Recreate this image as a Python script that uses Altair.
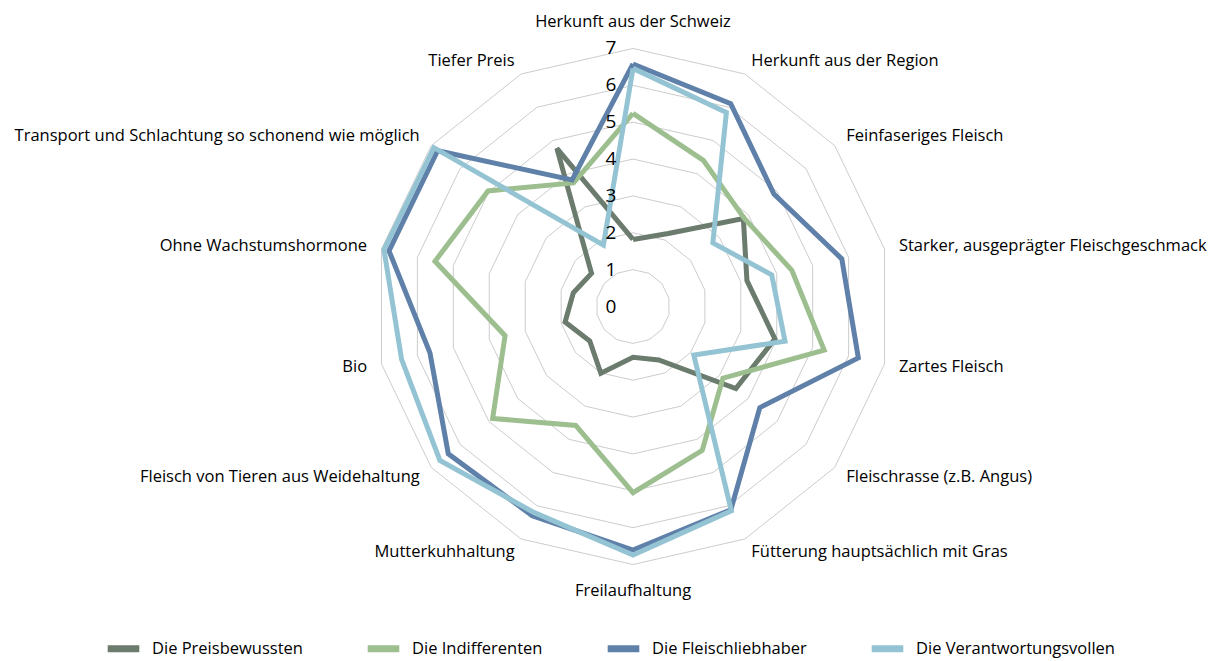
import altair as alt
import pandas as pd

categories = [
    "Herkunft aus der Schweiz",
    "Herkunft aus der Region",
    "Feinfaseriges Fleisch",
    "Starker, ausgeprägter Fleischgeschmack",
    "Zartes Fleisch",
    "Fleischrasse (z.B. Angus)",
    "Fütterung hauptsächlich mit Gras",
    "Freilaufhaltung",
    "Mutterkuhhaltung",
    "Fleisch von Tieren aus Weidehaltung",
    "Bio",
    "Ohne Wachstumshormone",
    "Transport und Schlachtung so schonend wie möglich",
    "Tiefer Preis",
]
series_names = ["Die Preisbewussten", "Die Indifferenten", "Die Fleischliebhaber", "Die Verantwortungsvollen"]
preisbewusste = [1.82, 2.2, 3.83, 3.17, 3.95, 3.57, 1.61, 1.38, 2.01, 1.5, 1.89, 1.66, 1.44, 4.76]
indifferente = [5.24, 4.40, 3.85, 4.42, 5.32, 3.12, 4.33, 5.05, 3.58, 4.87, 3.56, 5.51, 5.03, 3.72]
fleischliebhaber = [6.58, 6.11, 4.89, 5.81, 6.27, 4.40, 6.12, 6.61, 6.30, 6.41, 5.65, 6.79, 6.78, 3.81]
verantwortungsvolle = [6.46, 5.84, 2.77, 3.86, 4.23, 2.11, 6.15, 6.74, 6.20, 6.70, 6.44, 6.93, 6.91, 1.85]
tick_values = [0, 1, 2, 3, 4, 5, 6, 7]
grid_levels = [1, 2, 3, 4, 5, 6, 7]
colors = ["#6b7b6d", "#9dbf8f", "#5f80a9", "#94c4d3"]

FONT = "Open Sans"
TEXT_COLOR = "#000000"
N = len(categories)

# layout (pixels)
W, H = 1200, 653
CX, CY = 625.0, 298.5   # centre inside the plot area
UNIT = 36.86            # pixels per value unit
XMIN = -CX / UNIT
XMAX = (W - CX) / UNIT
YMAX = CY / UNIT
YMIN = (CY - H) / UNIT

all_series = [preisbewusste, indifferente, fleischliebhaber, verantwortungsvolle]
rows = []
for k, (name, vals) in enumerate(zip(series_names, all_series)):
    for i in range(N + 1):
        rows.append({"series": name, "k": k, "idx": i, "value": vals[i % N]})
series_df = pd.DataFrame(rows)

grid_df = pd.DataFrame([{"level": lv, "idx": i} for lv in grid_levels for i in range(N + 1)])
label_df = pd.DataFrame({"idx": list(range(N)), "category": categories})
tick_df = pd.DataFrame({"tick": tick_values})

xs = alt.Scale(domain=[XMIN, XMAX], nice=False, zero=False)
ys = alt.Scale(domain=[YMIN, YMAX], nice=False, zero=False)
ANG = "datum.idx * 2 * PI / %d" % N

grid = (
    alt.Chart(grid_df)
    .transform_calculate(a=ANG)
    .transform_calculate(gx="datum.level * sin(datum.a)", gy="datum.level * cos(datum.a)")
    .mark_line(color="#cccccc", strokeWidth=1)
    .encode(
        x=alt.X("gx:Q", scale=xs, axis=None),
        y=alt.Y("gy:Q", scale=ys, axis=None),
        detail="level:N",
        order="idx:Q",
    )
)

lines = (
    alt.Chart(series_df)
    .transform_calculate(a=ANG)
    .transform_calculate(sx="datum.value * sin(datum.a)", sy="datum.value * cos(datum.a)")
    .mark_line(strokeWidth=5, strokeJoin="miter")
    .encode(
        x=alt.X("sx:Q", scale=xs, axis=None),
        y=alt.Y("sy:Q", scale=ys, axis=None),
        color=alt.Color(
            "series:N",
            scale=alt.Scale(domain=series_names, range=colors),
            legend=alt.Legend(
                title=None,
                orient="none",
                direction="horizontal",
                legendX=96,
                legendY=621,
                symbolType="stroke",
                symbolStrokeWidth=7,
                symbolSize=1000,
                labelFont=FONT,
                labelFontSize=16.5,
                labelColor=TEXT_COLOR,
                labelOffset=9,
                labelLimit=400,
                columnPadding=50,
            ),
        ),
        order="idx:Q",
    )
)

label_base = (
    alt.Chart(label_df)
    .transform_calculate(a=ANG)
    .transform_calculate(
        lx="7.4 * sin(datum.a)",
        ly="7.4 * cos(datum.a) + (cos(datum.a) > 0.99 ? 0.33 : (cos(datum.a) < -0.99 ? -0.33 : 0))",
        s="sin(datum.a)",
    )
)


def label_layer(filt, align):
    return (
        label_base.transform_filter(filt)
        .mark_text(align=align, baseline="middle", font=FONT, fontSize=16.5, color=TEXT_COLOR)
        .encode(
            x=alt.X("lx:Q", scale=xs, axis=None),
            y=alt.Y("ly:Q", scale=ys, axis=None),
            text="category:N",
        )
    )


labels_r = label_layer("datum.s > 0.01", "left")
labels_l = label_layer("datum.s < -0.01", "right")
labels_c = label_layer("abs(datum.s) <= 0.01", "center")

ticks = (
    alt.Chart(tick_df)
    .transform_calculate(tx="-0.45")
    .mark_text(align="right", baseline="middle", font=FONT, fontSize=19, color=TEXT_COLOR)
    .encode(
        x=alt.X("tx:Q", scale=xs, axis=None),
        y=alt.Y("tick:Q", scale=ys, axis=None),
        text="tick:Q",
    )
)

chart = (
    alt.layer(grid, lines, labels_r, labels_l, labels_c, ticks)
    .properties(width=W, height=H, autosize=alt.AutoSizeParams(type="none"), padding=0, background="white")
    .configure_view(stroke=None)
)

chart.save("out.html", embed_options={"renderer": "svg", "actions": False})
